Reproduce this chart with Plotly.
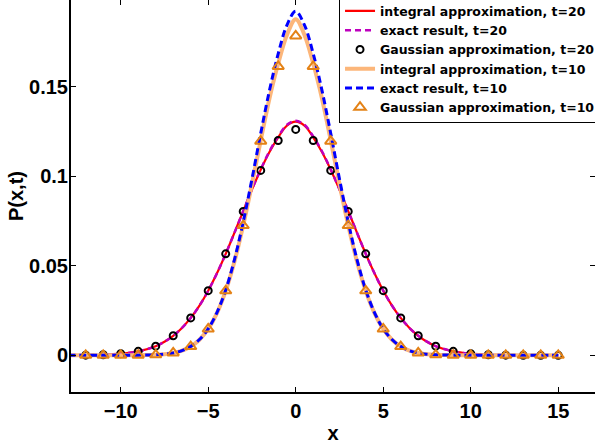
import plotly.graph_objects as go

# ---------------- data ----------------
x_curve = [-13, -12, -11, -10, -9, -8, -7.5, -7, -6.5, -6, -5.5, -5, -4.5, -4, -3.5, -3,
           -2.5, -2, -1.5, -1, -0.5, 0, 0.5, 1, 1.5, 2, 2.5, 3, 3.5, 4, 4.5, 5, 5.5,
           6, 6.5, 7, 7.5, 8, 9, 10, 11, 12, 13, 14, 15]

integral_t20 = [0.0000, 0.0001, 0.0003, 0.0009, 0.0022, 0.0051, 0.0076, 0.0109, 0.0153, 0.0209,
                0.0278, 0.0361, 0.0458, 0.0567, 0.0685, 0.0806, 0.0926, 0.1037, 0.1136, 0.1218,
                0.1283, 0.1305, 0.1283, 0.1218, 0.1136, 0.1037, 0.0926, 0.0806, 0.0685, 0.0567,
                0.0458, 0.0361, 0.0278, 0.0209, 0.0153, 0.0109, 0.0076, 0.0051, 0.0022, 0.0009,
                0.0003, 0.0001, 0.0000, 0.0000, 0.0000]

exact_t20 = [0.0000, 0.0001, 0.0003, 0.0009, 0.0022, 0.0051, 0.0076, 0.0109, 0.0153, 0.0209,
             0.0278, 0.0361, 0.0458, 0.0567, 0.0685, 0.0806, 0.0927, 0.1039, 0.1140, 0.1223,
             0.1288, 0.1310, 0.1288, 0.1223, 0.1140, 0.1039, 0.0927, 0.0806, 0.0685, 0.0567,
             0.0458, 0.0361, 0.0278, 0.0209, 0.0153, 0.0109, 0.0076, 0.0051, 0.0022, 0.0009,
             0.0003, 0.0001, 0.0000, 0.0000, 0.0000]

integral_t10 = [0.0000, 0.0000, 0.0000, 0.0000, 0.0001, 0.0003, 0.0006, 0.0013, 0.0026, 0.0049,
                0.0087, 0.0147, 0.0236, 0.0360, 0.0524, 0.0726, 0.0957, 0.1200, 0.1435, 0.1630,
                0.1790, 0.1878, 0.1790, 0.1630, 0.1435, 0.1200, 0.0957, 0.0726, 0.0524, 0.0360,
                0.0236, 0.0147, 0.0087, 0.0049, 0.0026, 0.0013, 0.0006, 0.0003, 0.0001, 0.0000,
                0.0000, 0.0000, 0.0000, 0.0000, 0.0000]

exact_t10 = [0.0000, 0.0000, 0.0000, 0.0000, 0.0001, 0.0003, 0.0006, 0.0013, 0.0026, 0.0050,
             0.0088, 0.0148, 0.0239, 0.0365, 0.0535, 0.0745, 0.0985, 0.1240, 0.1480, 0.1685,
             0.1845, 0.1922, 0.1845, 0.1685, 0.1480, 0.1240, 0.0985, 0.0745, 0.0535, 0.0365,
             0.0239, 0.0148, 0.0088, 0.0050, 0.0026, 0.0013, 0.0006, 0.0003, 0.0001, 0.0000,
             0.0000, 0.0000, 0.0000, 0.0000, 0.0000]

x_points = [-12, -11, -10, -9, -8, -7, -6, -5, -4, -3, -2, -1, 0, 1, 2, 3, 4, 5, 6, 7, 8, 9,
            10, 11, 12, 13, 14, 15]

gauss_t20 = [0.0001, 0.0003, 0.0009, 0.0022, 0.0051, 0.0109, 0.0209, 0.0361, 0.0567, 0.0804,
             0.1033, 0.1200, 0.1262, 0.1200, 0.1033, 0.0804, 0.0567, 0.0361, 0.0209, 0.0109,
             0.0051, 0.0022, 0.0009, 0.0003, 0.0001, 0.0000, 0.0000, 0.0000]

gauss_t10 = [0.0000, 0.0000, 0.0000, 0.0001, 0.0003, 0.0013, 0.0049, 0.0147, 0.0360, 0.0725,
             0.1196, 0.1614, 0.1784, 0.1614, 0.1196, 0.0725, 0.0360, 0.0147, 0.0049, 0.0013,
             0.0003, 0.0001, 0.0000, 0.0000, 0.0000, 0.0000, 0.0000, 0.0000]

x_ticks = [-10, -5, 0, 5, 10, 15]
x_ticktext = ["\u221210", "\u22125", "0", "5", "10", "15"]
y_ticks = [0, 0.05, 0.1, 0.15]
y_ticktext = ["0", "0.05", "0.1", "0.15"]

# ---------------- figure ----------------
FONT = "Liberation Sans, Arial, Helvetica, sans-serif"
LEGEND_FONT = "DejaVu Sans, Liberation Sans, sans-serif"

fig = go.Figure()
fig.add_trace(go.Scatter(x=x_curve, y=integral_t20, mode="lines", line_shape="spline",
                         line=dict(color="rgb(255,0,0)", width=2.2),
                         name="integral approximation, t=20"))
fig.add_trace(go.Scatter(x=x_curve, y=exact_t20, mode="lines", line_shape="spline",
                         line=dict(color="rgb(190,0,190)", width=2.5, dash="6px,4px"),
                         name="exact result, t=20"))
fig.add_trace(go.Scatter(x=x_points, y=gauss_t20, mode="markers",
                         marker=dict(symbol="circle-open", size=7, color="black",
                                     line=dict(width=2, color="black")),
                         name="Gaussian approximation, t=20"))
fig.add_trace(go.Scatter(x=x_curve, y=integral_t10, mode="lines", line_shape="spline",
                         line=dict(color="rgb(252,182,122)", width=4),
                         name="integral approximation, t=10"))
fig.add_trace(go.Scatter(x=x_curve, y=exact_t10, mode="lines", line_shape="spline",
                         line=dict(color="rgb(0,0,255)", width=3, dash="7px,4px"),
                         name="exact result, t=10"))
fig.add_trace(go.Scatter(x=x_points, y=gauss_t10, mode="markers",
                         marker=dict(symbol="triangle-up-open", size=10, color="rgb(228,130,22)",
                                     line=dict(width=2, color="rgb(228,130,22)")),
                         name="Gaussian approximation, t=10"))

axis_common = dict(
    showline=True, linecolor="black", linewidth=2, mirror="allticks",
    ticks="inside", ticklen=5, tickwidth=1, tickcolor="black",
    showgrid=False, zeroline=False,
    tickfont=dict(family=FONT, size=20, color="black", weight="bold"),
)

fig.update_xaxes(range=[-12.84, 17.1], tickvals=x_ticks, ticktext=x_ticktext,
                 title=dict(text="x", font=dict(family=FONT, size=20, color="black", weight="bold"),
                            standoff=11),
                 **axis_common)
fig.update_yaxes(range=[-0.0205, 0.1985], tickvals=y_ticks, ticktext=y_ticktext,
                 ticklabelstandoff=-3,
                 title=dict(text="P(x,t)", font=dict(family=FONT, size=20, color="black", weight="bold"),
                            standoff=0),
                 **axis_common)

fig.update_layout(
    width=595, height=444,
    margin=dict(l=71, r=0, t=0, b=52, autoexpand=False),
    paper_bgcolor="white", plot_bgcolor="white",
    showlegend=True,
    legend=dict(x=0.5115, y=1.012, xanchor="left", yanchor="top",
                bgcolor="white", bordercolor="black", borderwidth=1,
                font=dict(family=LEGEND_FONT, size=12.5, color="black", weight="bold"),
                tracegroupgap=0, itemwidth=30),
)

fig.write_html("out.html", config={"displayModeBar": False},
               post_script="document.body.style.margin='0';document.body.style.padding='0';")
